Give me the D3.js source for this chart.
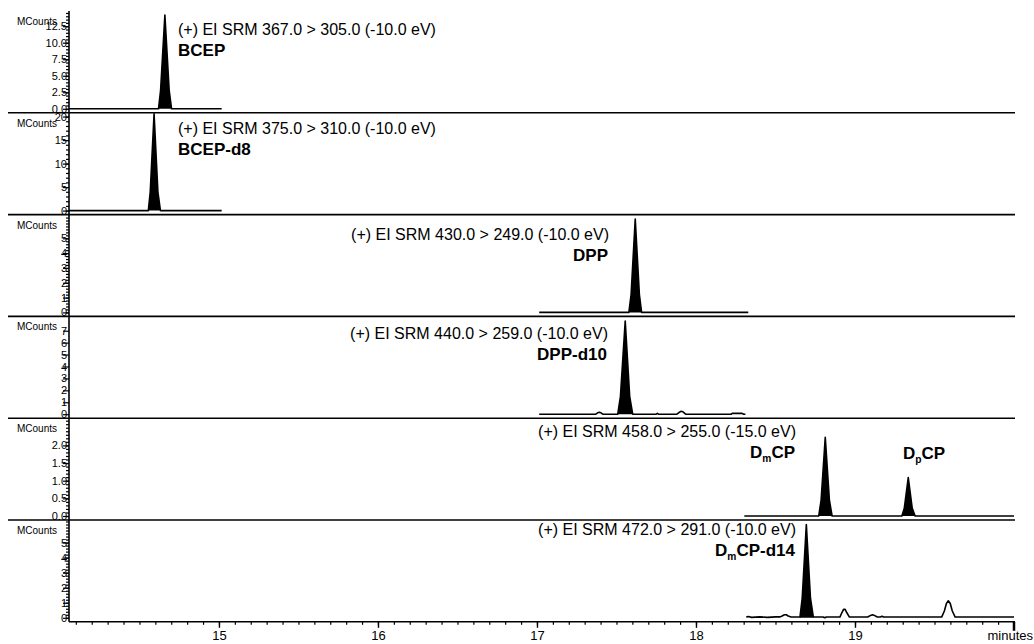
<!DOCTYPE html>
<html>
<head>
<meta charset="utf-8">
<script src="https://cdn.jsdelivr.net/npm/d3@7"></script>
<style>
body { margin: 0; background: #fff; }
svg { display: block; font-family: "Liberation Sans", Arial, sans-serif; background: #fff; }
</style>
</head>
<body>
<svg id="chart"></svg>
<script>
// retention time tick labels (minutes)
var xTicks = [15, 16, 17, 18, 19];

// SRM channel headers and compound names ({x} = subscript)
var transitions = [
  "(+) EI SRM 367.0 > 305.0 (-10.0 eV)",
  "(+) EI SRM 375.0 > 310.0 (-10.0 eV)",
  "(+) EI SRM 430.0 > 249.0 (-10.0 eV)",
  "(+) EI SRM 440.0 > 259.0 (-10.0 eV)",
  "(+) EI SRM 458.0 > 255.0 (-15.0 eV)",
  "(+) EI SRM 472.0 > 291.0 (-10.0 eV)"
];
var compounds = ["BCEP", "BCEP-d8", "DPP", "DPP-d10", "D{m}CP", "D{m}CP-d14"];

// MCounts scale top and tick labels of each channel
var yTops = [14.8, 20.8, 6.6, 8.2, 2.77, 6.5];
var yLabels = [
  [0, 2.5, 5, 7.5, 10, 12.5],
  [0, 5, 10, 15, 20],
  [0, 1, 2, 3, 4, 5],
  [0, 1, 2, 3, 4, 5, 6, 7],
  [0, 0.5, 1, 1.5, 2],
  [0, 1, 2, 3, 4, 5]
];
var yMinor = [0.5, 1, 0.2, 0, 0.1, 0.2];
var yFormats = [".1f", "d", "d", "d", ".1f", "d"];

// traces [minutes, MCounts]
var bcep = [[14.057,0],[14.620,0],[14.633,2.8],[14.660,14.2],[14.687,2.8],[14.702,0],[15.017,0]];
var bcepD8 = [[14.057,0],[14.556,0],[14.568,4],[14.592,20.6],[14.616,4],[14.632,0],[15.017,0]];
var dpp = [[17.014,0],[17.578,0],[17.592,1.2],[17.618,6.3],[17.644,1.2],[17.658,0],[18.329,0]];
var dppD10 = [[17.014,0],[17.37,0],[17.382,0.12],[17.392,0.16],[17.402,0.12],[17.414,0],[17.508,0],
  [17.525,1.5],[17.555,7.8],[17.583,1.5],[17.602,0],[17.75,0],[17.757,0.07],[17.764,0],[17.88,0],
  [17.893,0.14],[17.905,0.24],[17.918,0.2],[17.935,0],[18.222,0],[18.228,0.07],[18.29,0.07],
  [18.30,0],[18.311,0]];
var dmcp = [[18.304,0],[18.772,0],[18.787,0.45],[18.813,2.23],[18.839,0.45],[18.856,0],[19.295,0],
  [19.31,0.22],[19.335,1.09],[19.36,0.22],[19.378,0],[20.0,0]];
var dmcpD14 = [[18.316,0.05],[18.33,0.08],[18.35,0.03],[18.40,0.06],[18.45,0.03],[18.50,0.06],
  [18.53,0.06],[18.545,0.14],[18.556,0.2],[18.568,0.2],[18.58,0.12],[18.598,0.05],[18.654,0.05],
  [18.668,1.3],[18.694,6.2],[18.72,1.3],[18.738,0.05],[18.80,0.05],[18.81,0],[18.82,0.05],
  [18.905,0.05],[18.918,0.35],[18.928,0.56],[18.938,0.56],[18.948,0.35],[18.965,0.05],[19.08,0.05],
  [19.098,0.16],[19.11,0.2],[19.122,0.16],[19.14,0.05],[19.16,0.05],[19.17,0.1],[19.18,0.05],
  [19.545,0.05],[19.562,0.45],[19.575,0.95],[19.587,1.13],[19.599,0.95],[19.612,0.45],
  [19.63,0.05],[20.0,0.05]];
var traces = [bcep, bcepD8, dpp, dppD10, dmcp, dmcpD14];

// integrated (filled) peak windows, minutes
var filled = [
  [[14.620, 14.702]],
  [[14.556, 14.632]],
  [[17.578, 17.658]],
  [[17.508, 17.602]],
  [[18.772, 18.856], [19.295, 19.378]],
  [[18.654, 18.738]]
];

// layout
var width = 1034, height = 644;
var axisX = 69, axisEnd = 1014, top0 = 11, panelH = 101.8;
var bottomY = top0 + 6 * panelH;
// header positions [x, baseline y, anchor]
var headerPos = [[178,35,"start"],[178,134,"start"],[609,240,"end"],[608,339,"end"],[796,437,"end"],[796,535,"end"]];

var svg = d3.select("#chart").attr("width", width).attr("height", height);

var x = d3.scaleLinear().domain([14.057, 20.0]).range([axisX, axisEnd]);

function richText(sel, str, size) {
  var parts = str.split(/(\{[^}]*\})/).filter(function(p) { return p.length; });
  var shifted = false;
  parts.forEach(function(p) {
    if (p[0] === "{") {
      sel.append("tspan").attr("font-size", size * 0.6).attr("dy", 4).text(p.slice(1, -1));
      shifted = true;
    } else {
      sel.append("tspan").attr("dy", shifted ? -4 : 0).text(p);
      shifted = false;
    }
  });
}

traces.forEach(function(trace, i) {
  var top = top0 + i * panelH, bottom = top + panelH;
  var y = d3.scaleLinear().domain([0, yTops[i]]).range([bottom - 4, top]);
  var g = svg.append("g");

  // peak fills
  var area = d3.area().x(function(d) { return x(d[0]); }).y0(y(0)).y1(function(d) { return y(d[1]); });
  filled[i].forEach(function(w) {
    var pts = trace.filter(function(d) { return d[0] >= w[0] && d[0] <= w[1]; });
    g.append("path").attr("d", area(pts)).attr("fill", "#000");
  });

  var line = d3.line().x(function(d) { return x(d[0]); }).y(function(d) { return y(d[1]); });
  g.append("path").attr("d", line(trace)).attr("fill", "none")
    .attr("stroke", "#000").attr("stroke-width", 1.6).attr("stroke-linejoin", "round");

  // y axis ticks
  if (yMinor[i]) {
    var minor = g.append("g").attr("transform", "translate(" + axisX + ",0)")
      .call(d3.axisLeft(y).tickValues(d3.range(0, yTops[i], yMinor[i])).tickSize(3).tickFormat(""));
    minor.select(".domain").remove();
    minor.selectAll("line").attr("stroke-width", 1.2);
  }
  var yAxis = g.append("g").attr("transform", "translate(" + axisX + ",0)")
    .call(d3.axisLeft(y).tickValues(yLabels[i]).tickSize(6).tickPadding(-4).tickFormat(d3.format(yFormats[i])));
  yAxis.select(".domain").remove();
  yAxis.selectAll("line").attr("stroke-width", 1.2);
  yAxis.selectAll("text").attr("font-size", 11).attr("font-family", "Liberation Sans, Arial, sans-serif");

  g.append("text").attr("x", 57).attr("y", top + 14).attr("text-anchor", "end")
    .attr("font-size", 10).text("MCounts");

  // separator above the panel
  if (i > 0) {
    g.append("line").attr("x1", 8).attr("x2", axisEnd + 1).attr("y1", top).attr("y2", top)
      .attr("stroke", "#000").attr("stroke-width", 1.6);
  }

  // channel header and compound
  var hp = headerPos[i];
  g.append("text").attr("x", hp[0]).attr("y", hp[1]).attr("text-anchor", hp[2])
    .attr("font-size", 16).text(transitions[i]);
  var c = g.append("text").attr("x", hp[0] - (hp[2] === "end" ? 1 : 0)).attr("y", hp[1] + 21)
    .attr("text-anchor", hp[2]).attr("font-size", 17).attr("font-weight", "bold");
  richText(c, compounds[i], 17);
});

// second compound in the 458 > 255 channel
var dp = svg.append("text").attr("x", 924).attr("y", top0 + 4 * panelH + 41)
  .attr("text-anchor", "middle").attr("font-size", 17).attr("font-weight", "bold");
richText(dp, "D{p}CP", 17);

// continuous y axis line
svg.append("line").attr("x1", axisX).attr("x2", axisX).attr("y1", top0).attr("y2", bottomY)
  .attr("stroke", "#000").attr("stroke-width", 1.6);

// x axis
var xMinor = svg.append("g").attr("transform", "translate(0," + bottomY + ")")
  .call(d3.axisBottom(x).tickValues(d3.range(14.1, 19.95, 0.1)).tickSize(3).tickFormat(""));
xMinor.select(".domain").remove();
xMinor.selectAll("line").attr("stroke-width", 1.2);

var xAxis = svg.append("g").attr("transform", "translate(0," + bottomY + ")")
  .call(d3.axisBottom(x).tickValues(xTicks).tickSize(6).tickPadding(3).tickFormat(d3.format("d")));
xAxis.select(".domain").remove();
xAxis.selectAll("line").attr("stroke-width", 1.4);
xAxis.selectAll("text").attr("font-size", 13).attr("font-family", "Liberation Sans, Arial, sans-serif");

svg.append("line").attr("x1", axisX).attr("x2", axisEnd + 1).attr("y1", bottomY).attr("y2", bottomY)
  .attr("stroke", "#000").attr("stroke-width", 1.6);
svg.append("line").attr("x1", x(20)).attr("x2", x(20)).attr("y1", bottomY).attr("y2", bottomY + 9)
  .attr("stroke", "#000").attr("stroke-width", 2.5);

svg.append("text").attr("x", 1033).attr("y", 640).attr("text-anchor", "end")
  .attr("font-size", 13).text("minutes");
</script>
</body>
</html>
